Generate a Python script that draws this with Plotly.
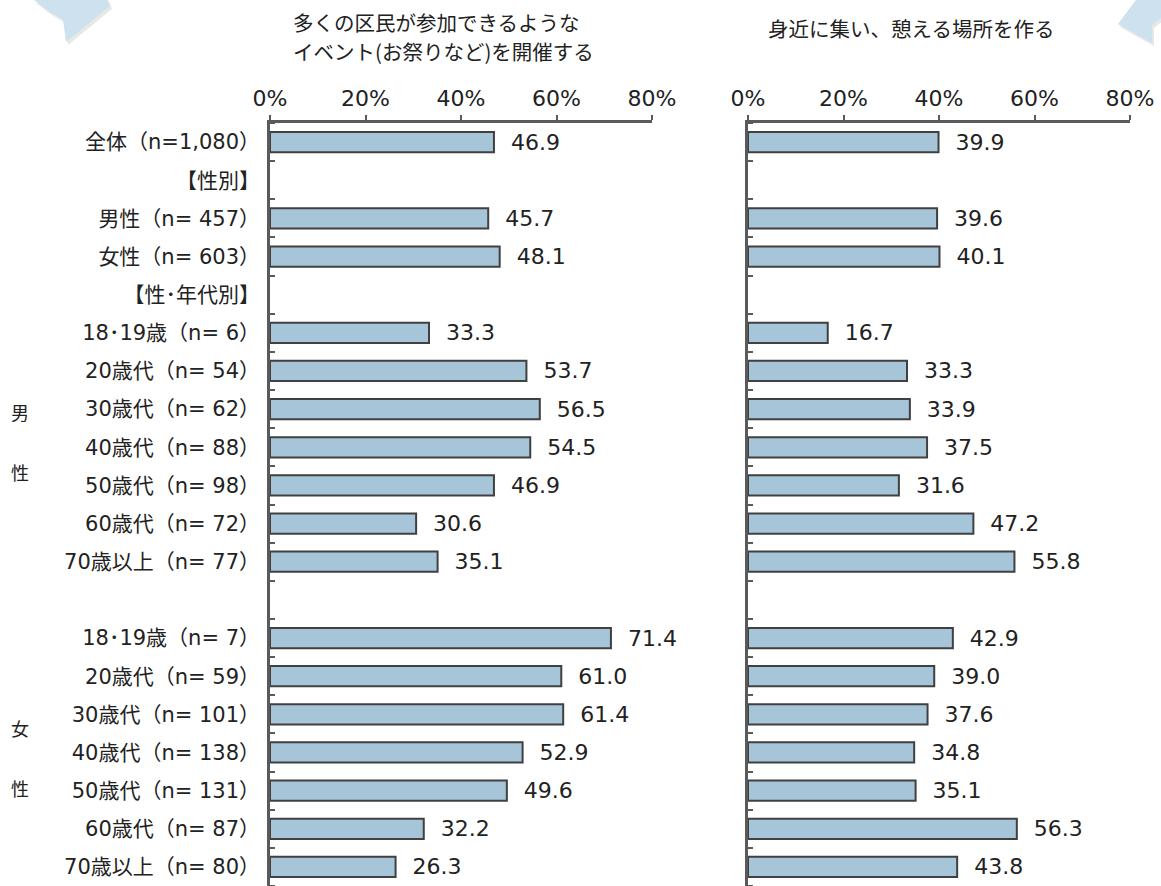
import plotly.graph_objects as go

# ---------------- data ----------------
categories = [
    "全体（n=1,080）", "【性別】", "男性（n= 457）", "女性（n= 603）", "【性･年代別】",
    "18･19歳（n= 6）", "20歳代（n= 54）", "30歳代（n= 62）", "40歳代（n= 88）",
    "50歳代（n= 98）", "60歳代（n= 72）", "70歳以上（n= 77）", "",
    "18･19歳（n= 7）", "20歳代（n= 59）", "30歳代（n= 101）", "40歳代（n= 138）",
    "50歳代（n= 131）", "60歳代（n= 87）", "70歳以上（n= 80）",
]
event_values = [46.9, None, 45.7, 48.1, None, 33.3, 53.7, 56.5, 54.5, 46.9, 30.6, 35.1, None,
                71.4, 61.0, 61.4, 52.9, 49.6, 32.2, 26.3]
place_values = [39.9, None, 39.6, 40.1, None, 16.7, 33.3, 33.9, 37.5, 31.6, 47.2, 55.8, None,
                42.9, 39.0, 37.6, 34.8, 35.1, 56.3, 43.8]
title_event = ["多くの区民が参加できるような", "イベント(お祭りなど)を開催する"]
title_place = ["身近に集い、憩える場所を作る"]
x_ticks = [0, 20, 40, 60, 80]
x_tick_labels = ["0%", "20%", "40%", "60%", "80%"]

# ---------------- layout helpers ----------------
W, H = 1161, 886
FONT = "DejaVu Sans, Noto Sans CJK JP"
CJK = "Noto Sans CJK JP"
TXT = "#222222"
BAR_FILL = "#A6C5D9"
BAR_LINE = "#404040"
AXIS_COL = "#5A5A5A"


def px(x):
    return x / W


def py(y):
    return 1 - y / H


positions = list(range(len(categories)))

fig = go.Figure()
for i, vals in enumerate([event_values, place_values]):
    xa = "x" if i == 0 else "x2"
    ya = "y" if i == 0 else "y2"
    fig.add_trace(go.Bar(
        x=vals, y=positions, orientation="h",
        xaxis=xa, yaxis=ya, width=0.53,
        marker=dict(color=BAR_FILL, line=dict(color=BAR_LINE, width=2)),
        text=[("\u00a0\u00a0" + f"{v:.1f}") if v is not None else "" for v in vals],
        textposition="outside", constraintext="none", cliponaxis=False,
        textfont=dict(family=FONT, size=22, color=TXT),
        hoverinfo="skip", showlegend=False,
    ))

common_x = dict(
    range=[0, 80], side="top", tickvals=x_ticks, ticktext=x_tick_labels,
    ticks="outside", ticklen=5, tickwidth=2, tickcolor=AXIS_COL,
    showline=True, linecolor=AXIS_COL, linewidth=2.5, showgrid=False, zeroline=False,
    tickfont=dict(family=FONT, size=22, color=TXT), fixedrange=True, automargin=False,
)
common_y = dict(
    range=[len(categories) - 0.5, -0.5], tickvals=positions,
    showline=True, linecolor=AXIS_COL, linewidth=2.5, showgrid=False, zeroline=False,
    ticks="", minor=dict(ticks="inside", tick0=0.5, dtick=1, ticklen=5,
                         tickwidth=1.5, tickcolor=AXIS_COL, showgrid=False),
    domain=[py(886), py(123)], fixedrange=True, automargin=False,
)

fig.update_layout(
    width=W, height=H, margin=dict(l=0, r=0, t=0, b=0),
    paper_bgcolor="white", plot_bgcolor="white",
    font=dict(family=FONT, color=TXT),
    xaxis=dict(domain=[px(270), px(652)], anchor="y", **common_x),
    xaxis2=dict(domain=[px(748), px(1130)], anchor="y2", **common_x),
    yaxis=dict(anchor="x", ticktext=categories, ticklabelstandoff=3,
               tickfont=dict(family=FONT, size=21, color=TXT), **common_y),
    yaxis2=dict(anchor="x2", showticklabels=False, **common_y),
)

# panel titles
for k, line in enumerate(title_event):
    fig.add_annotation(text=line, x=px(291), y=py(22 + 29 * k), xref="paper", yref="paper",
                       xanchor="left", yanchor="middle", showarrow=False,
                       font=dict(family=CJK, size=20.5, color=TXT))
for k, line in enumerate(title_place):
    fig.add_annotation(text=line, x=px(766), y=py(28 + 29 * k), xref="paper", yref="paper",
                       xanchor="left", yanchor="middle", showarrow=False,
                       font=dict(family=CJK, size=20.5, color=TXT))

# side group labels
for ch, yy in [("男", 412), ("性", 472), ("女", 728), ("性", 788)]:
    fig.add_annotation(text=ch, x=px(20), y=py(yy), xref="paper", yref="paper",
                       xanchor="center", yanchor="middle", showarrow=False,
                       font=dict(family=CJK, size=18, color=TXT))


# decorative corner shapes
def path(points):
    return "M " + " L ".join(f"{px(a)},{py(b)}" for a, b in points) + " Z"


left_shape = [(34, 0), (108, 0), (110, 6), (66, 42), (63, 20), (50, 12)]
right_shape = [(1136, 0), (1161, 0), (1161, 18), (1152, 25), (1152, 43), (1118, 24)]
for pts in (left_shape, right_shape):
    shadow = [(a + 2, b + 3) for a, b in pts]
    fig.add_shape(type="path", path=path(shadow), xref="paper", yref="paper",
                  fillcolor="rgba(150,150,150,0.22)", line=dict(width=0), layer="below")
    fig.add_shape(type="path", path=path(pts), xref="paper", yref="paper",
                  fillcolor="#CEE1EE", line=dict(width=0), layer="below")

fig.write_html("out.html", config={"displayModeBar": False},
               post_script="document.body.style.margin='0';")
